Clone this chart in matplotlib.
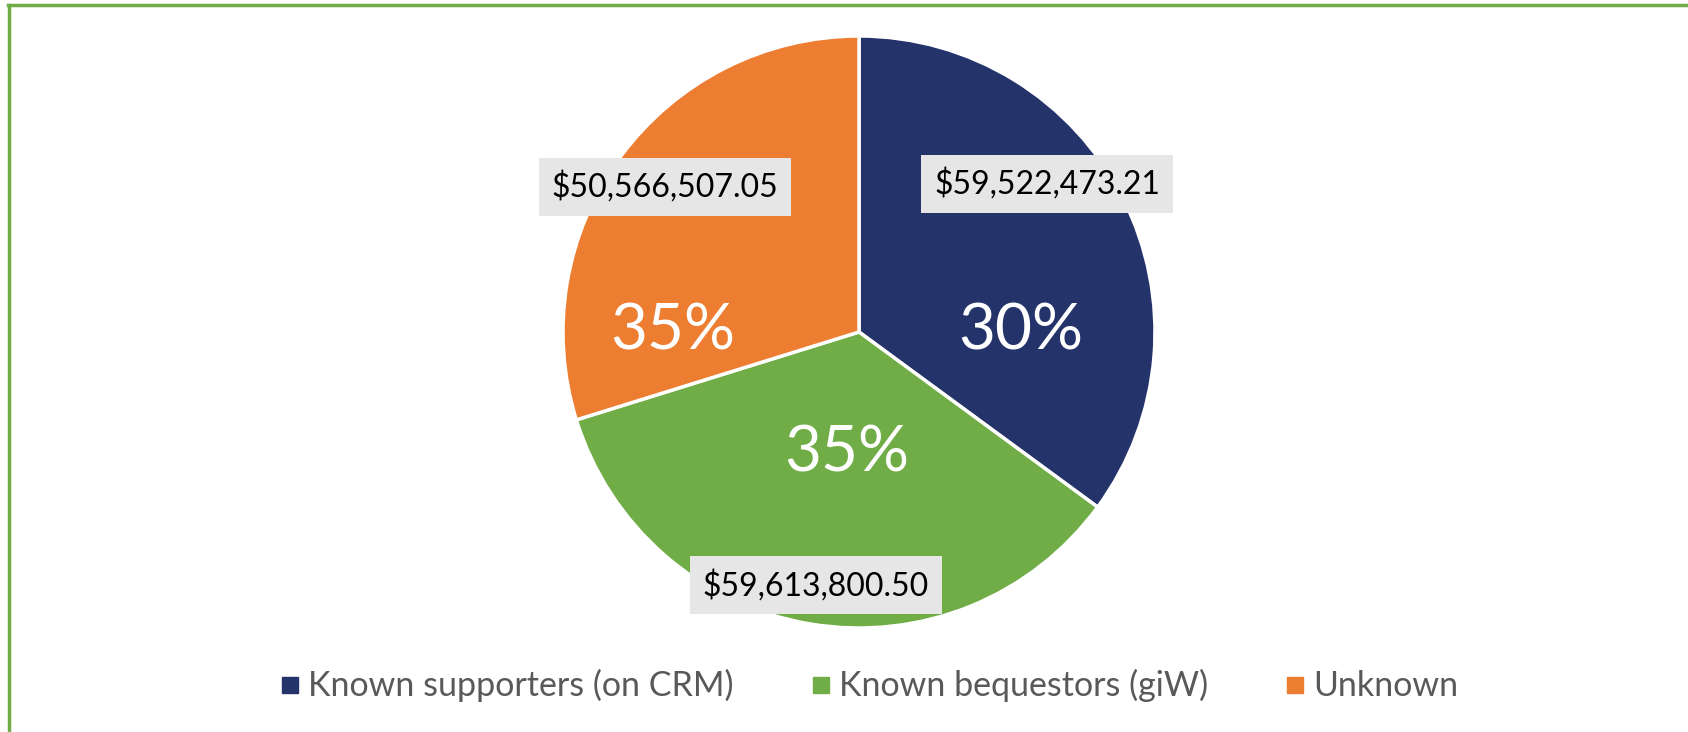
import matplotlib
matplotlib.use("Agg")
import matplotlib.pyplot as plt
from matplotlib.lines import Line2D

# ---- データ ----
categories = ["Known supporters (on CRM)", "Known bequestors (giW)", "Unknown"]
values = [59522473.21, 59613800.50, 50566507.05]
pct_labels = ["30%", "35%", "35%"]   # 元のグラフに表示されている通り
colors = ["#24346A", "#70AD47", "#ED7D31"]

# ---- ラベル位置（半径単位） ----
pct_pos = [(0.545, 0.0), (-0.04, -0.41), (-0.63, 0.0)]
val_pos = [(0.635, 0.50), (-0.145, -0.855), (-0.655, 0.49)]

W, H = 1688, 732
fig = plt.figure(figsize=(W/100, H/100), dpi=100)
plt.rcParams['font.family'] = ['Lato', 'DejaVu Sans']

cx, cy, R = 859, 332, 296
ax = fig.add_axes([(cx-R)/W, (H-cy-R)/H, 2*R/W, 2*R/H])
wedges, _ = ax.pie(values, colors=colors, startangle=90, counterclock=False,
                   wedgeprops=dict(edgecolor="white", linewidth=2.5))
ax.set_xlim(-1, 1)
ax.set_ylim(-1, 1)
ax.set_aspect('equal')

for (x, y), t in zip(pct_pos, pct_labels):
    ax.text(x, y, t, color="white", fontsize=46, ha="center", va="center")

for (x, y), v in zip(val_pos, values):
    ax.text(x, y, f"${v:,.2f}", color="black", fontsize=23, ha="center", va="center",
            bbox=dict(boxstyle="square,pad=0.4", facecolor="#E7E6E6", edgecolor="none"),
            zorder=5)

handles = [Line2D([], [], marker="s", linestyle="none", markersize=11,
                  markerfacecolor=c, markeredgecolor=c) for c in colors]
fig.legend(handles, categories, loc="center", bbox_to_anchor=(0.515, 0.063),
           ncol=3, frameon=False, fontsize=24.5, labelcolor="#595959",
           handletextpad=0.25, columnspacing=2.3, handlelength=0.55)

# 枠線（上と左のみ）
fig.add_artist(Line2D([9/W, 9/W], [0, 1-5/H], color="#70AD47", lw=2.5, transform=fig.transFigure))
fig.add_artist(Line2D([8/W, 1], [1-5/H, 1-5/H], color="#70AD47", lw=2.5, transform=fig.transFigure))

fig.savefig("out.png", dpi=100)
